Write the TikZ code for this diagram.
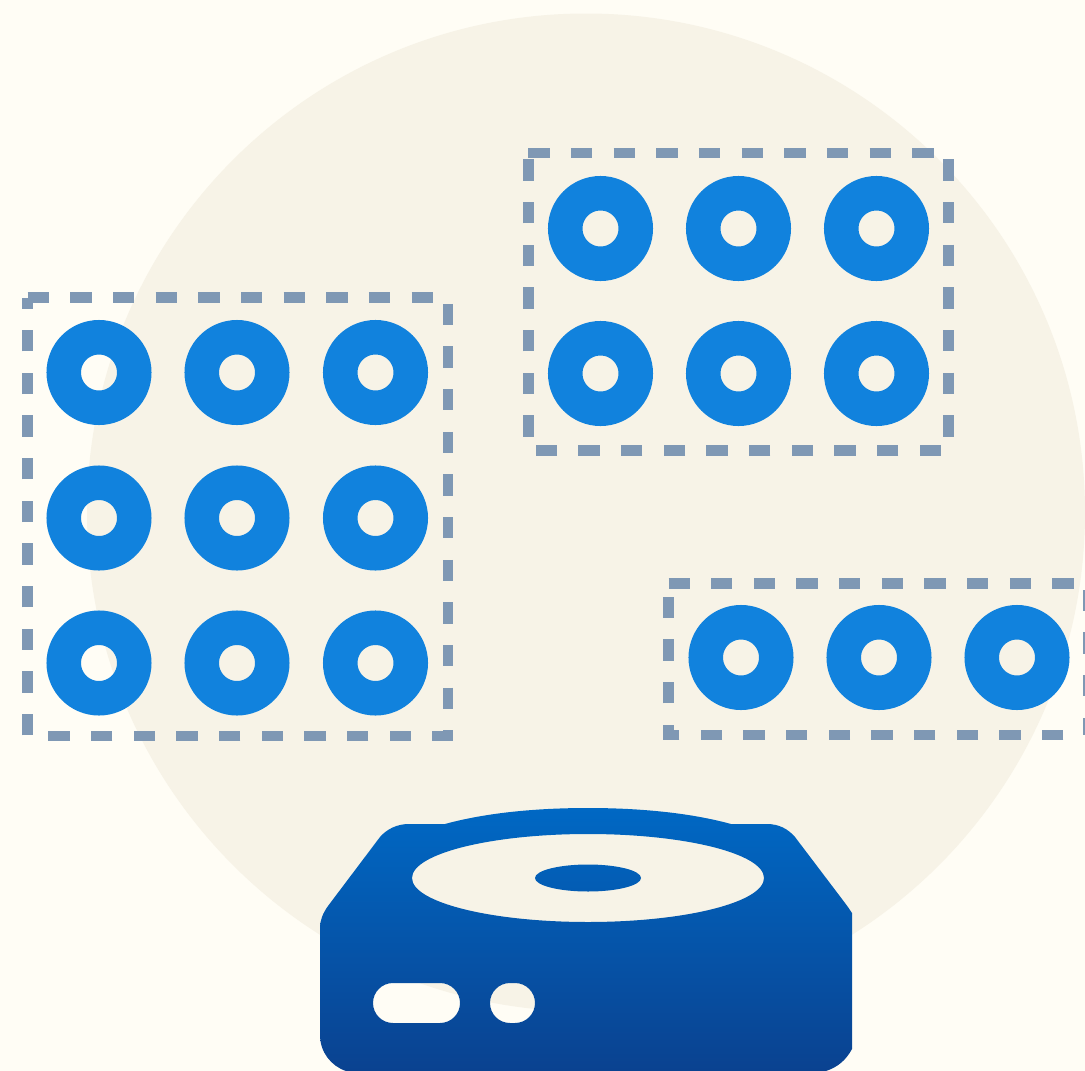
\documentclass[tikz,border=0pt]{standalone}
\usepackage{tikz}
\usetikzlibrary{positioning}
\definecolor{PageCream}{RGB}{255,253,245}
\definecolor{DiscCream}{RGB}{247,243,231}
\definecolor{PadBlue}{RGB}{17,130,221}
\definecolor{GroupSlate}{RGB}{127,152,180}
\definecolor{DriveTop}{RGB}{0,104,196}
\definecolor{DriveBottom}{RGB}{10,66,144}

\begin{document}
\begin{tikzpicture}[
      x=1pt,y=-1pt,
      pad/.style={circle,draw=PadBlue,line width=34.5pt,inner sep=0pt,minimum size=70.5pt},
      group/.style={draw=GroupSlate,line width=10.7pt,dash pattern=on 21.33pt off 21.33pt,miter limit=4}
    ]
    \path[use as bounding box,clip] (0,0) rectangle (1085,1071);
    \fill[PageCream] (0,0) rectangle (1085,1071);
    \fill[DiscCream] (586,512.5) circle[radius=499];

    % Left group: three rows
    \draw[group] (27.7,297.5) -- (448,297.5) -- (448,736) -- (27.7,736) -- cycle;
    \node(a1)[pad] at (99,372.5) {};
    \node(a2)[pad] at (237,372.5) {};
    \node(a3)[pad] at (375.5,372.5) {};
    \node(a4)[pad] at (99,518) {};
    \node(a5)[pad] at (237,518) {};
    \node(a6)[pad] at (375.5,518) {};
    \node(a7)[pad] at (99,663) {};
    \node(a8)[pad] at (237,663) {};
    \node(a9)[pad] at (375.5,663) {};

    % Upper right group: two rows
    \draw[group] (528.3,153) -- (948.5,153) -- (948.5,450.5) -- (528.3,450.5) -- cycle;
    \node(b1)[pad] at (600.5,228.5) {};
    \node(b2)[pad] at (738.5,228.5) {};
    \node(b3)[pad] at (876.5,228.5) {};
    \node(b4)[pad] at (600.5,373.5) {};
    \node(b5)[pad] at (738.5,373.5) {};
    \node(b6)[pad] at (876.5,373.5) {};

    % Lower right group: one row, runs off the page
    \draw[group] (668.5,583.3) -- (1088.7,583.3) -- (1088.7,735) -- (668.5,735) -- cycle;
    \node(c1)[pad] at (741,657.5) {};
    \node(c2)[pad] at (879,657.5) {};
    \node(c3)[pad] at (1017,657.5) {};

    % Drive body with disc and slots cut out
    \shade[even odd rule,top color=DriveTop,bottom color=DriveBottom]
      (320,928) .. controls (320,920) and (323,913) .. (328,906)
      -- (380,837) .. controls (387,829) and (397,824) .. (409,824)
      -- (445,824) .. controls (485,813) and (535,808) .. (588,808)
      .. controls (641,808) and (691,813) .. (731,824)
      -- (767,824) .. controls (779,824) and (788,829) .. (795,837)
      -- (845,903) .. controls (848,907) and (850,910) .. (852,913)
      -- (852,1049) .. controls (846,1060) and (838,1067) .. (826,1071)
      -- (346,1071) .. controls (331,1066) and (320,1052) .. (320,1035) -- cycle
      (588,878) ellipse[x radius=176,y radius=44]
      (588,878) ellipse[x radius=53,y radius=13.5]
      (393,983) -- (440,983) arc[start angle=-90,end angle=90,radius=20] -- (393,1023) arc[start angle=90,end angle=270,radius=20] -- cycle
      (510,983) -- (515,983) arc[start angle=-90,end angle=90,radius=20] -- (510,1023) arc[start angle=90,end angle=270,radius=20] -- cycle;
  \end{tikzpicture}
\end{document}
